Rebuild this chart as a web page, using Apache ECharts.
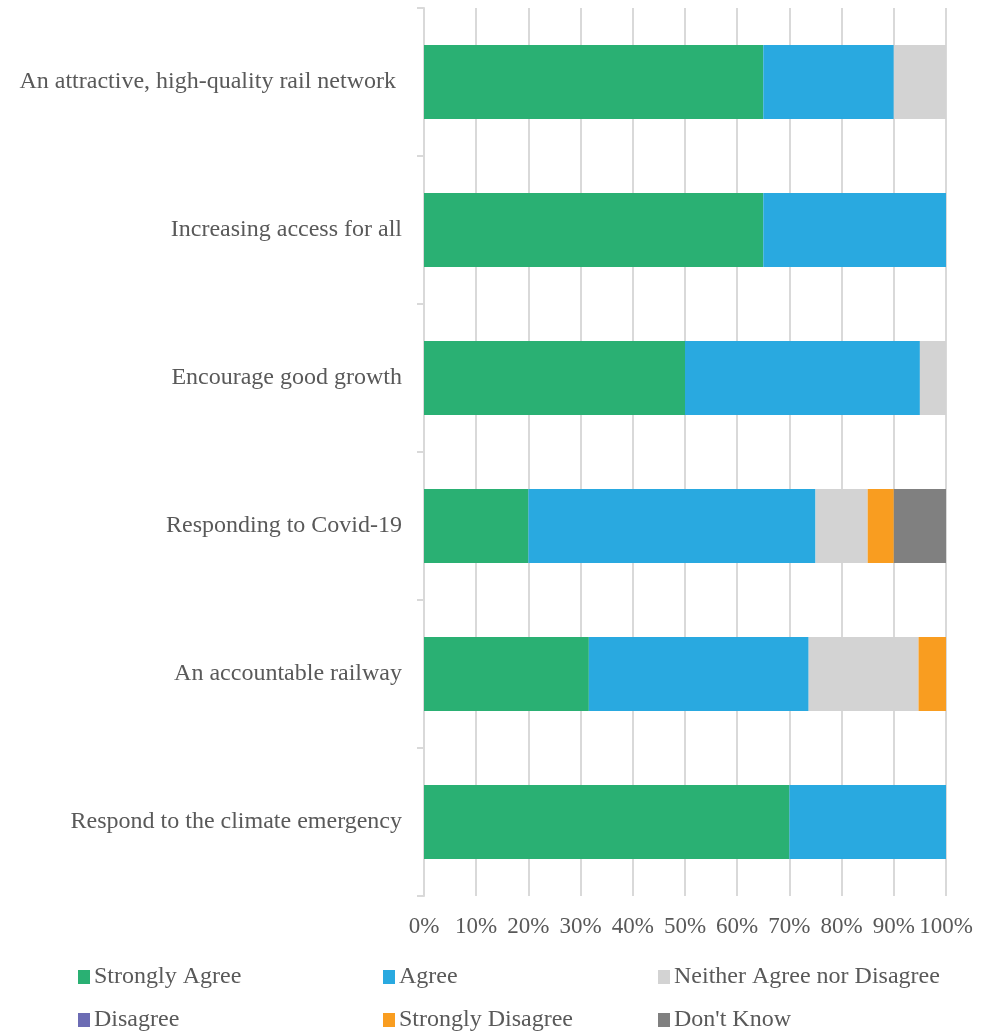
<!DOCTYPE html>
<html>
<head>
<meta charset="utf-8">
<title>Priorities survey</title>
<script src="https://cdn.jsdelivr.net/npm/echarts@6/dist/echarts.min.js"></script>
<style>
  html, body { margin: 0; padding: 0; background: #ffffff; }
  #chart { width: 991px; height: 1031px; }
</style>
</head>
<body>
<div id="chart"></div>
<script>
// Survey themes, top to bottom
const categories = [
  'An attractive, high-quality rail network ',
  'Increasing access for all',
  'Encourage good growth',
  'Responding to Covid-19',
  'An accountable railway',
  'Respond to the climate emergency'
];

// Share of responses per theme (%)
const stronglyAgree    = [65, 65, 50, 20, 31.58, 70];
const agree            = [25, 35, 45, 55, 42.11, 30];
const neither          = [10, 0, 5, 10, 21.05, 0];
const disagree         = [0, 0, 0, 0, 0, 0];
const stronglyDisagree = [0, 0, 0, 5, 5.26, 0];
const dontKnow         = [0, 0, 0, 10, 0, 0];

const xTicks = ['0%', '10%', '20%', '30%', '40%', '50%', '60%', '70%', '80%', '90%', '100%'];

const seriesDefs = [
  { name: 'Strongly Agree', data: stronglyAgree, color: '#2AB073' },
  { name: 'Agree', data: agree, color: '#29A9E0' },
  { name: 'Neither Agree nor Disagree', data: neither, color: '#D3D3D3' },
  { name: 'Disagree', data: disagree, color: '#6C6CB4' },
  { name: 'Strongly Disagree', data: stronglyDisagree, color: '#F99D20' },
  { name: "Don't Know", data: dontKnow, color: '#808080' }
];

const textColor = '#595959';
const fontFamily = '"Liberation Serif", "Times New Roman", serif';

// legend slots: three columns, two rows
const legendPos = [
  { left: 78, top: 965 }, { left: 383, top: 965 }, { left: 658, top: 965 },
  { left: 78, top: 1008 }, { left: 383, top: 1008 }, { left: 658, top: 1008 }
];

const chart = echarts.init(document.getElementById('chart'), null, { renderer: 'canvas' });

chart.setOption({
  animation: false,
  backgroundColor: '#ffffff',
  textStyle: { fontFamily: fontFamily, color: textColor },
  grid: { left: 424, right: 45, top: 8, bottom: 135, containLabel: false },
  legend: seriesDefs.map((s, i) => ({
    data: [s.name],
    left: legendPos[i].left,
    top: legendPos[i].top,
    orient: 'horizontal',
    icon: 'rect',
    itemWidth: 12,
    itemHeight: 14,
    itemGap: 4,
    padding: 0,
    selectedMode: false,
    textStyle: { fontFamily: fontFamily, fontSize: 24, color: textColor, padding: [0, 0, 0, -1] }
  })),
  xAxis: {
    type: 'value',
    min: 0,
    max: 100,
    interval: 10,
    axisLine: { show: false },
    axisTick: { show: false },
    splitLine: { show: true, lineStyle: { color: '#D9D9D9', width: 2 } },
    axisLabel: {
      margin: 19,
      fontFamily: fontFamily,
      fontSize: 23,
      color: textColor,
      formatter: function (v) { return xTicks[Math.round(v / 10)]; }
    }
  },
  yAxis: {
    type: 'category',
    inverse: true,
    data: categories,
    axisLine: { show: true, lineStyle: { color: '#D9D9D9', width: 2 } },
    axisTick: { show: true, length: 7, lineStyle: { color: '#D9D9D9', width: 2 } },
    axisLabel: {
      margin: 22,
      padding: [4, 0, 0, 0],
      fontFamily: fontFamily,
      fontSize: 24,
      color: textColor
    }
  },
  series: seriesDefs.map(s => ({
    name: s.name,
    type: 'bar',
    stack: 'total',
    barWidth: '50%',
    data: s.data,
    itemStyle: { color: s.color },
    emphasis: { disabled: true }
  }))
});
</script>
</body>
</html>
